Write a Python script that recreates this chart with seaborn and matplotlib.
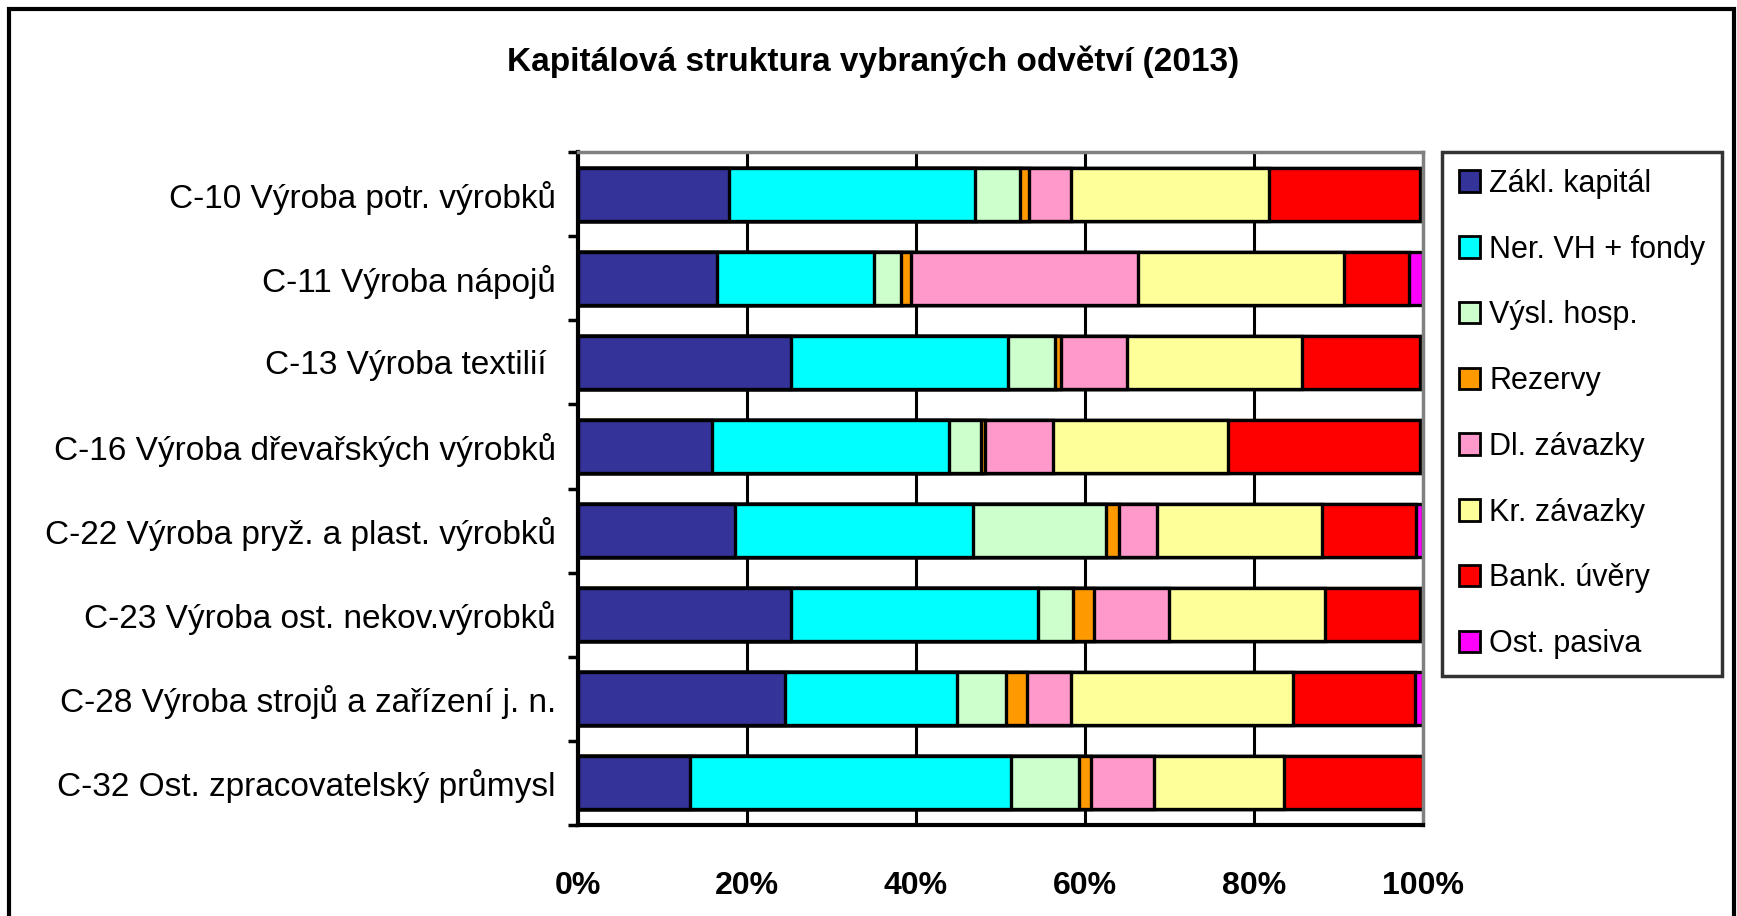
import matplotlib
import matplotlib.pyplot as plt
import numpy as np
import pandas as pd
import seaborn as sns
from matplotlib.patches import Patch, Rectangle

matplotlib.use("Agg")

# Data (shares in %)
categories = [
    "C-10 Výroba potr. výrobků",
    "C-11 Výroba nápojů",
    "C-13 Výroba textilií ",
    "C-16 Výroba dřevařských výrobků",
    "C-22 Výroba pryž. a plast. výrobků",
    "C-23 Výroba ost. nekov.výrobků",
    "C-28 Výroba strojů a zařízení j. n.",
    "C-32 Ost. zpracovatelský průmysl",
]
series_names = [
    "Zákl. kapitál",
    "Ner. VH + fondy",
    "Výsl. hosp.",
    "Rezervy",
    "Dl. závazky",
    "Kr. závazky",
    "Bank. úvěry",
    "Ost. pasiva",
]
zakl_kapital = [17.9, 16.4, 25.2, 15.8, 18.6, 25.2, 24.5, 13.3]
ner_vh_fondy = [29.1, 18.6, 25.7, 28.1, 28.1, 29.2, 20.4, 38.0]
vysl_hosp = [5.3, 3.2, 5.6, 3.8, 15.8, 4.2, 5.8, 8.0]
rezervy = [1.1, 1.2, 0.7, 0.5, 1.5, 2.5, 2.4, 1.4]
dl_zavazky = [4.9, 26.9, 7.8, 8.0, 4.5, 8.8, 5.2, 7.5]
kr_zavazky = [23.5, 24.3, 20.7, 20.7, 19.6, 18.5, 26.3, 15.4]
bank_uvery = [17.9, 7.8, 14.0, 22.8, 11.1, 11.3, 14.5, 16.4]
ost_pasiva = [0.3, 1.6, 0.3, 0.3, 0.8, 0.3, 0.9, 0.0]

colors = ["#333399", "#00FFFF", "#CCFFCC", "#FF9900",
          "#FF99CC", "#FFFF99", "#FF0000", "#FF00FF"]

sns.set_theme(style="white")
plt.rcParams["font.family"] = ["Liberation Sans", "DejaVu Sans"]
plt.rcParams["text.color"] = "black"

values = pd.DataFrame(
    np.array([zakl_kapital, ner_vh_fondy, vysl_hosp, rezervy,
              dl_zavazky, kr_zavazky, bank_uvery, ost_pasiva]).T,
    index=categories, columns=series_names,
)
# normalise to 100 % stacked shares
shares = values.div(values.sum(axis=1), axis=0) * 100
cum = shares.cumsum(axis=1)

fig = plt.figure(figsize=(17.37, 9.16), dpi=100)
ax = fig.add_axes([578 / 1737, 1 - 825 / 916, (1423 - 578) / 1737, (825 - 152) / 916])

# vertical grid behind bars
for x in [20, 40, 60, 80]:
    ax.axvline(x, color="black", lw=2.2, zorder=0)

# overlay cumulative bars, longest first
for i in range(len(series_names) - 1, -1, -1):
    df = pd.DataFrame({"cat": categories, "val": cum.iloc[:, i].values})
    sns.barplot(data=df, x="val", y="cat", orient="h", color=colors[i],
                width=0.63, edgecolor="black", linewidth=2.4,
                saturation=1, ax=ax, zorder=2)

ax.set_xlim(0, 100)
ax.set_ylim(len(categories) - 0.5, -0.5)
ax.set_xlabel("")
ax.set_ylabel("")
ax.set_xticks([0, 20, 40, 60, 80, 100])
ax.set_xticklabels(["0%", "20%", "40%", "60%", "80%", "100%"],
                   fontsize=23, fontweight="bold", color="black")
ax.set_yticks(range(len(categories)))
ax.set_yticklabels(categories, fontsize=24, color="black")
ax.set_yticks(np.arange(-0.5, len(categories), 1), minor=True)
ax.tick_params(axis="y", which="major", length=0, pad=16)
ax.tick_params(axis="y", which="minor", length=7, width=2.5, color="black",
               direction="out", left=True)
ax.tick_params(axis="x", length=0, pad=33)

for side in ["top", "right"]:
    ax.spines[side].set_color("#808080")
    ax.spines[side].set_linewidth(2.5)
for side in ["left", "bottom"]:
    ax.spines[side].set_color("black")
    ax.spines[side].set_linewidth(3)

fig.text(0.5 * (510 + 1237) / 1737, 1 - 62 / 916,
         "Kapitálová struktura vybraných odvětví (2013)",
         ha="center", va="center", fontsize=24, fontweight="bold")

handles = [Patch(facecolor=c, edgecolor="black", linewidth=2) for c in colors]
leg = fig.legend(handles, series_names, loc="upper left",
                 bbox_to_anchor=(1442 / 1737, 1 - 152 / 916),
                 fontsize=22, frameon=True, fancybox=False,
                 handlelength=0.7, handleheight=0.7, handletextpad=0.3,
                 labelspacing=1.17, borderpad=0.55, borderaxespad=0)
leg.get_frame().set_edgecolor("black")
leg.get_frame().set_linewidth(2.5)

fig.patches.append(Rectangle((9 / 1737, -0.1), (1734 - 9) / 1737, 1.1 - 9 / 916,
                             transform=fig.transFigure, fill=False,
                             edgecolor="black", linewidth=3))

fig.savefig("out.png", dpi=100, facecolor="white")
